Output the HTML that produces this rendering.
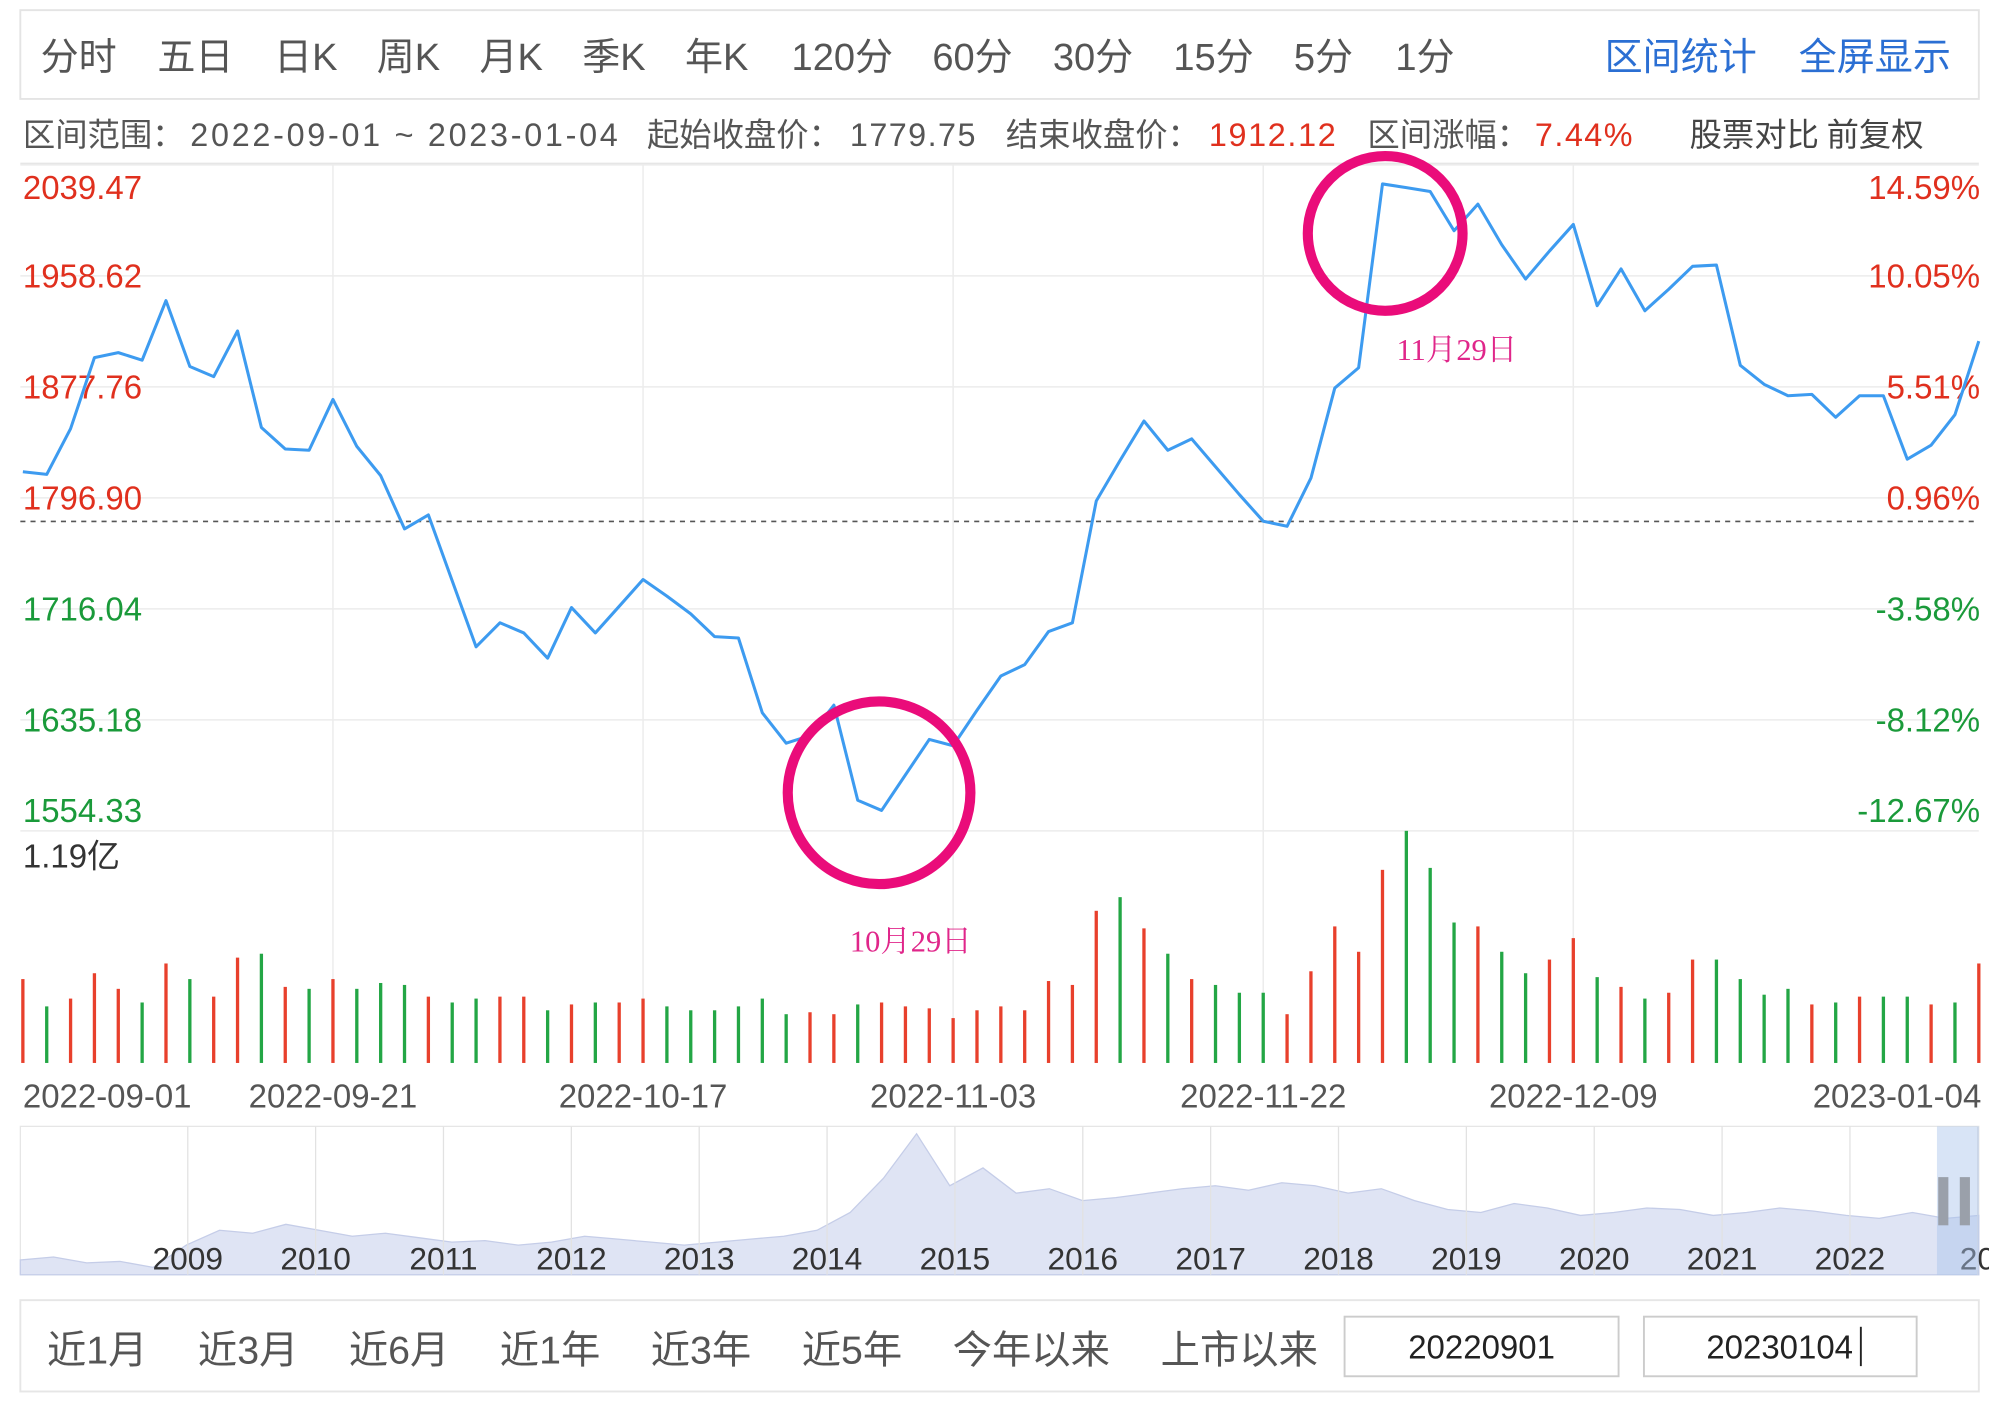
<!DOCTYPE html>
<html><head><meta charset="utf-8">
<style>
html,body{margin:0;padding:0;background:#fff;}
svg{display:block;}
text{font-family:"Liberation Sans","Noto Sans CJK SC",sans-serif;}
</style></head>
<body>
<svg id="chart" width="1989" height="1401" viewBox="0 0 1568 1104.5" xmlns="http://www.w3.org/2000/svg">
<rect x="0" y="0" width="1568" height="1104.5" fill="#fff"/>
<g>
<rect x="16" y="8" width="1544" height="70" fill="#fff" stroke="#e4e4e4" stroke-width="1.5"/>
<text x="32" y="55" font-size="30" fill="#555">分时</text>
<text x="124" y="55" font-size="30" fill="#555">五日</text>
<text x="216" y="55" font-size="30" fill="#555">日K</text>
<text x="297" y="55" font-size="30" fill="#555">周K</text>
<text x="378" y="55" font-size="30" fill="#555">月K</text>
<text x="459" y="55" font-size="30" fill="#555">季K</text>
<text x="540" y="55" font-size="30" fill="#555">年K</text>
<text x="624" y="55" font-size="30" fill="#555">120分</text>
<text x="735" y="55" font-size="30" fill="#555">60分</text>
<text x="830" y="55" font-size="30" fill="#555">30分</text>
<text x="925" y="55" font-size="30" fill="#555">15分</text>
<text x="1020" y="55" font-size="30" fill="#555">5分</text>
<text x="1100" y="55" font-size="30" fill="#555">1分</text>
<text x="1265" y="55" font-size="30" fill="#2b6fd3">区间统计</text>
<text x="1418" y="55" font-size="30" fill="#2b6fd3">全屏显示</text>
</g>
<g>
<text x="18" y="115" font-size="25.5" fill="#555">区间范围：</text>
<text x="150" y="115" font-size="25.5" fill="#555" textLength="337">2022-09-01 ~ 2023-01-04</text>
<text x="510" y="115" font-size="25.5" fill="#555">起始收盘价：</text>
<text x="670" y="115" font-size="25.5" fill="#555" textLength="99">1779.75</text>
<text x="793" y="115" font-size="25.5" fill="#555">结束收盘价：</text>
<text x="953" y="115" font-size="25.5" fill="#e0301e" textLength="100">1912.12</text>
<text x="1078" y="115" font-size="25.5" fill="#555">区间涨幅：</text>
<text x="1210" y="115" font-size="25.5" fill="#e0301e" textLength="77">7.44%</text>
<text x="1332" y="115" font-size="25.5" fill="#444">股票对比</text>
<text x="1440" y="115" font-size="25.5" fill="#444">前复权</text>
</g>
<line x1="16" y1="129" x2="1560" y2="129" stroke="#e6e6e6" stroke-width="1.5"/>
<g id="grid"></g>
<g id="yLabels"></g>
<g id="vol"></g>
<g id="line"></g>
<g id="xLabels"></g>
<text x="18" y="684" font-size="26" fill="#333">1.19亿</text>
<g>
<circle cx="693" cy="625" r="72" fill="none" stroke="#ea0c7a" stroke-width="8"/>
<circle cx="1092" cy="184" r="61" fill="none" stroke="#ea0c7a" stroke-width="8"/>
<text x="670" y="750" font-size="24" fill="#e0268a" style="font-family:'Liberation Serif','Noto Serif CJK SC',serif">10月29日</text>
<text x="1101" y="284" font-size="24" fill="#e0268a" style="font-family:'Liberation Serif','Noto Serif CJK SC',serif">11月29日</text>
</g>
<g id="nav"></g>
<g>
<rect x="16" y="1025" width="1544" height="72" fill="#fff" stroke="#e6e6e6" stroke-width="1.5"/>
<text x="37" y="1075" font-size="31" fill="#555">近1月</text>
<text x="156" y="1075" font-size="31" fill="#555">近3月</text>
<text x="275" y="1075" font-size="31" fill="#555">近6月</text>
<text x="394" y="1075" font-size="31" fill="#555">近1年</text>
<text x="513" y="1075" font-size="31" fill="#555">近3年</text>
<text x="632" y="1075" font-size="31" fill="#555">近5年</text>
<text x="751" y="1075" font-size="31" fill="#555">今年以来</text>
<text x="915" y="1075" font-size="31" fill="#555">上市以来</text>
<rect x="1060" y="1038" width="216" height="47" fill="#fff" stroke="#ccc" stroke-width="1.5"/>
<text x="1168" y="1071" font-size="26" fill="#222" text-anchor="middle">20220901</text>
<rect x="1296" y="1038" width="215" height="47" fill="#fff" stroke="#ccc" stroke-width="1.5"/>
<text x="1403" y="1071" font-size="26" fill="#222" text-anchor="middle">20230104</text>
<line x1="1467" y1="1046" x2="1467" y2="1077" stroke="#222" stroke-width="1.5"/>
</g>
</svg>
<script>
const prices=[1815.9,1814.0,1847.3,1899.1,1902.7,1897.2,1940.6,1892.6,1885.2,1918.5,1848.2,1832.5,1831.6,1868.6,1834.4,1813.1,1774.3,1784.5,1736.4,1688.4,1705.9,1698.5,1680.1,1717.0,1698.5,1717.9,1737.4,1725.3,1712.4,1695.8,1694.8,1640.3,1618.2,1623.7,1645.9,1576.6,1569.2,1595.1,1620.9,1616.3,1642.2,1667.1,1675.4,1699.5,1705.9,1794.6,1824.2,1852.9,1831.6,1839.9,1819.6,1799.3,1779.9,1776.2,1811.3,1876.9,1891.7,2025.6,2022.9,2020.1,1991.5,2010.9,1981.3,1956.3,1976.7,1996.1,1936.9,1963.7,1933.2,1948.9,1965.6,1966.5,1893.5,1879.6,1871.3,1872.3,1855.6,1871.3,1871.3,1825.1,1835.3,1857.5,1911.1];
const volumes=[0.43,0.29,0.33,0.46,0.38,0.31,0.51,0.43,0.34,0.54,0.56,0.39,0.38,0.43,0.38,0.41,0.40,0.34,0.31,0.33,0.34,0.34,0.27,0.30,0.31,0.31,0.33,0.29,0.27,0.27,0.29,0.33,0.25,0.26,0.25,0.30,0.31,0.29,0.28,0.23,0.27,0.29,0.27,0.42,0.40,0.78,0.85,0.69,0.56,0.43,0.40,0.36,0.36,0.25,0.47,0.70,0.57,0.99,1.19,1.00,0.72,0.70,0.57,0.46,0.53,0.64,0.44,0.39,0.33,0.36,0.53,0.53,0.43,0.35,0.38,0.30,0.31,0.34,0.34,0.34,0.30,0.31,0.51];
const volDir=['r','g','r','r','r','g','r','g','r','r','g','r','g','r','g','g','g','r','g','g','r','r','g','r','g','r','r','g','g','g','g','g','g','r','r','g','r','r','r','r','r','r','r','r','r','r','g','r','g','r','g','g','g','r','r','r','r','r','g','g','g','r','g','g','r','r','g','r','g','r','r','g','g','g','g','r','g','r','g','g','r','g','r'];
const priceTicks=[2039.47,1958.62,1877.76,1796.90,1716.04,1635.18,1554.33];
const pctTicks=['14.59%','10.05%','5.51%','0.96%','-3.58%','-8.12%','-12.67%'];
const dateLabels=['2022-09-01','2022-09-21','2022-10-17','2022-11-03','2022-11-22','2022-12-09','2023-01-04'];
const dateIdx=[0,13,26,39,52,65,82];
const navYears=['2009','2010','2011','2012','2013','2014','2015','2016','2017','2018','2019','2020','2021','2022','20'];
const navSeries=[0.10,0.12,0.08,0.09,0.05,0.20,0.30,0.28,0.34,0.30,0.26,0.28,0.25,0.22,0.23,0.20,0.22,0.26,0.24,0.22,0.20,0.22,0.24,0.26,0.30,0.42,0.65,0.95,0.60,0.72,0.55,0.58,0.50,0.52,0.55,0.58,0.60,0.57,0.62,0.60,0.55,0.58,0.50,0.44,0.42,0.48,0.45,0.40,0.42,0.45,0.44,0.40,0.42,0.45,0.43,0.40,0.38,0.42,0.38,0.40];
const baseClose=1779.75;

const NS='http://www.w3.org/2000/svg';
function mk(tag,attrs,parent,txt){const e=document.createElementNS(NS,tag);for(const k in attrs)e.setAttribute(k,attrs[k]);if(txt!==undefined)e.textContent=txt;parent.appendChild(e);return e;}
const X0=18,X1=1560,PY0=130,PY1=655,VB=838,VT=655;
const pMax=priceTicks[0],pMin=priceTicks[priceTicks.length-1];
const xs=i=>X0+i*(X1-X0)/(prices.length-1);
const yp=p=>PY0+(pMax-p)/(pMax-pMin)*(PY1-PY0);
const vMax=Math.max(...volumes);
const yv=v=>VB-v/vMax*(VB-VT);

const grid=document.getElementById('grid');
priceTicks.forEach((t,i)=>{
  const l=mk('line',{x1:16,x2:1560,y1:yp(t),y2:yp(t),stroke:'#ececec','stroke-width':1.2},grid);
  
  
});
dateIdx.slice(1,6).forEach(i=>{
  const l=mk('line',{x1:xs(i),x2:xs(i),y1:130,y2:VB,stroke:'#ececec','stroke-width':1.2},grid);
  
  
});
const bl=mk('line',{x1:16,x2:1560,y1:yp(baseClose),y2:yp(baseClose),stroke:'#555','stroke-width':1.3,'stroke-dasharray':'4,4'},grid);



const yl=document.getElementById('yLabels');
priceTicks.forEach((t,i)=>{
  const col=t>baseClose?'#e0301e':'#1a9a3a';
  const ty=i===0?yp(t)+27:(i===priceTicks.length-1?yp(t)-7:yp(t)+9);
  const a=mk('text',{x:18,y:ty,'font-size':26,fill:col},yl,t.toFixed(2));
  
  
  const b=mk('text',{x:1561,y:ty,'font-size':26,fill:col,'text-anchor':'end'},yl,pctTicks[i]);
  
  
});

const vol=document.getElementById('vol');
volumes.forEach((v,i)=>{
  const r=mk('rect',{x:xs(i)-1.3,y:yv(v),width:2.6,height:VB-yv(v),fill:volDir[i]==='r'?'#e8402c':'#23a645'},vol);
  
  
});

const line=document.getElementById('line');
const pl=mk('polyline',{points:prices.map((p,i)=>xs(i)+','+yp(p)).join(' '),fill:'none',stroke:'#3d9bf0','stroke-width':2.4,'stroke-linejoin':'round'},line);



const xl=document.getElementById('xLabels');
dateLabels.forEach((d,k)=>{
  const i=dateIdx[k];
  const last=k===dateLabels.length-1;
  const anchor=k===0?'start':(last?'end':'middle');
  const t=mk('text',{x:k===0?18:(last?1562:xs(i)),y:873,'font-size':26,fill:'#555','text-anchor':anchor},xl,d);
  
  
});

const nav=document.getElementById('nav');
const NX0=16,NX1=1560,NY0=888,NY1=1005;
mk('rect',{x:NX0,y:NY0,width:NX1-NX0,height:NY1-NY0,fill:'#fff',stroke:'#e6e6e6'},nav);
const nxs=i=>NX0+i*(NX1-NX0)/(navSeries.length-1);
const nys=v=>NY1-v*(NY1-NY0);
let d='M'+NX0+','+NY1+' '+navSeries.map((v,i)=>'L'+nxs(i)+','+nys(v)).join(' ')+' L'+NX1+','+NY1+'Z';
const area=mk('path',{d:d,fill:'#dfe4f4',stroke:'#c5cde8','stroke-width':1},nav);


navYears.forEach((y,k)=>{
  const x=148+k*100.8;
  mk('line',{x1:x,x2:x,y1:NY0,y2:NY1,stroke:'#e2e2e2'},nav);
  const lastY=k===navYears.length-1;
  const t=mk('text',{x:lastY?1545:x,y:1001,'font-size':25,fill:'#333','text-anchor':lastY?'start':'middle'},nav,y);
  
  
});
const sel=mk('rect',{x:1527,y:NY0,width:33,height:NY1-NY0,fill:'#a9c4ec','fill-opacity':0.45},nav);


mk('rect',{x:1528,y:928,width:8,height:38,fill:'#9aa0aa'},nav);
mk('rect',{x:1545,y:928,width:8,height:38,fill:'#9aa0aa'},nav);
</script>
</body></html>
